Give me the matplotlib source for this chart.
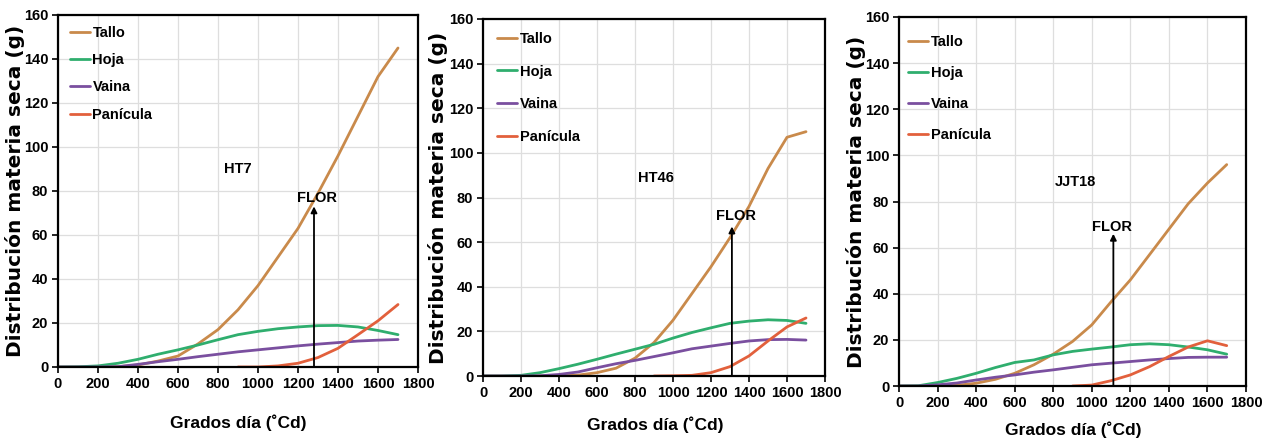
import matplotlib
matplotlib.use("Agg")
import matplotlib.pyplot as plt

W, H = 1266, 443
NARROW = ['Liberation Sans Narrow', 'Liberation Sans', 'DejaVu Sans']

series_names = ['Tallo', 'Hoja', 'Vaina', 'Panícula']
colors = {'Tallo': '#C98A4B', 'Hoja': '#2FAE6E', 'Vaina': '#7A4F9F', 'Panícula': '#E2603C'}

x_full = [0, 100, 200, 300, 400, 500, 600, 700, 800, 900, 1000, 1100, 1200, 1300, 1400, 1500, 1600, 1700]
x_pan = [900, 1000, 1100, 1200, 1300, 1400, 1500, 1600, 1700]

# HT7
ht7_tallo = [0, 0, 0, 0.15, 0.9, 2.7, 5.0, 10.5, 17, 26, 37, 50, 63, 79, 96, 114, 132, 145]
ht7_hoja = [0, 0.1, 0.5, 1.7, 3.5, 5.8, 7.8, 10.0, 12.4, 14.7, 16.2, 17.4, 18.2, 18.8, 18.9, 18.2, 16.6, 14.7]
ht7_vaina = [0, 0, 0, 0.15, 1.2, 2.4, 3.5, 4.7, 5.8, 6.9, 7.8, 8.7, 9.6, 10.4, 11.1, 11.8, 12.2, 12.5]
ht7_panicula = [0, 0, 0.5, 1.7, 4.3, 8.5, 14.7, 21, 28.4]

# HT46
ht46_tallo = [0, 0, 0, 0, 0, 0.4, 1.5, 3.5, 8.0, 15, 25, 37, 49, 62, 76, 93, 107, 109.5]
ht46_hoja = [0, 0, 0.3, 1.5, 3.3, 5.3, 7.5, 9.8, 12, 14.2, 17, 19.5, 21.6, 23.6, 24.6, 25.2, 24.9, 23.6]
ht46_vaina = [0, 0, 0, 0.1, 0.7, 1.8, 3.7, 5.5, 7.0, 8.7, 10.4, 12.2, 13.4, 14.6, 15.7, 16.3, 16.4, 16.1]
ht46_panicula = [0, 0.1, 0.3, 1.5, 4.2, 9.0, 15.7, 22, 26]

# JJT18
jjt18_tallo = [0, 0, 0, 0.3, 1.2, 2.9, 5.5, 9.2, 13.8, 19.3, 26.5, 36.5, 46, 57, 68, 79, 88, 96]
jjt18_hoja = [0, 0.1, 1.5, 3.3, 5.5, 8.0, 10.2, 11.3, 13.5, 15.0, 16.0, 16.9, 17.9, 18.3, 17.9, 16.9, 15.7, 13.8]
jjt18_vaina = [0, 0, 0.5, 1.3, 2.6, 3.8, 4.8, 6.0, 7.0, 8.1, 9.2, 9.9, 10.6, 11.3, 11.9, 12.4, 12.5, 12.5]
jjt18_panicula = [0, 0.4, 2.3, 4.8, 8.4, 12.8, 16.9, 19.6, 17.5]

panels = [
    dict(name='HT7', data=[ht7_tallo, ht7_hoja, ht7_vaina, ht7_panicula],
         box=(58, 15, 418, 367), name_xy=(900, 90), flor_xy=(1295, 77), arrow_x=1280, arrow_top=73,
         leg=(0.033, 0.969, 0.91), ylab_x=15, xlab=(238, 423)),
    dict(name='HT46', data=[ht46_tallo, ht46_hoja, ht46_vaina, ht46_panicula],
         box=(483, 19, 825, 376), name_xy=(910, 88.7), flor_xy=(1332, 71.7), arrow_x=1310, arrow_top=67,
         leg=(0.041, 0.964, 1.28), ylab_x=438, xlab=(655, 425)),
    dict(name='JJT18', data=[jjt18_tallo, jjt18_hoja, jjt18_vaina, jjt18_panicula],
         box=(899, 17, 1246, 386), name_xy=(913, 88.5), flor_xy=(1105, 69), arrow_x=1112, arrow_top=66,
         leg=(0.026, 0.951, 1.16), ylab_x=856, xlab=(1073, 430)),
]

fig = plt.figure(figsize=(W / 100, H / 100), dpi=100)
fig.patch.set_facecolor('white')

for p in panels:
    l, t, r, b = p['box']
    ax = fig.add_axes([l / W, 1 - b / H, (r - l) / W, (b - t) / H])
    for nm, ys in zip(series_names, p['data']):
        xs = x_pan if nm == 'Panícula' else x_full
        ax.plot(xs, ys, color=colors[nm], lw=2.0, label=nm, solid_capstyle='round',
                solid_joinstyle='round')
    ax.set_xlim(0, 1800)
    ax.set_ylim(0, 160)
    ax.set_xticks(range(0, 1801, 200))
    ax.set_yticks(range(0, 161, 20))
    ax.grid(True, color='#dedede', lw=0.9)
    ax.set_axisbelow(True)
    for s in ax.spines.values():
        s.set_linewidth(1.6)
        s.set_color('black')
    ax.tick_params(direction='out', length=4, width=1.2, pad=3)
    for lab in ax.get_xticklabels() + ax.get_yticklabels():
        lab.set_family(NARROW)
        lab.set_fontweight('bold')
        lab.set_fontsize(10.5)
    ax.text(p['name_xy'][0], p['name_xy'][1], p['name'], ha='center', va='center',
            family=NARROW, fontweight='bold', fontsize=10.5)
    ax.text(p['flor_xy'][0], p['flor_xy'][1], 'FLOR', ha='center', va='center',
            family=NARROW, fontweight='bold', fontsize=10.5)
    ax.annotate('', xy=(p['arrow_x'], p['arrow_top']), xytext=(p['arrow_x'], 0),
                arrowprops=dict(arrowstyle='-|>', color='black', lw=1.3, mutation_scale=9,
                                shrinkA=0, shrinkB=0))
    lx, ly, sp = p['leg']
    ax.legend(loc='upper left', bbox_to_anchor=(lx, ly), frameon=False,
              borderaxespad=0, borderpad=0, handlelength=1.4, handletextpad=0.15,
              labelspacing=sp, prop=dict(family=NARROW, weight='bold', size=10.5))
    fig.text(p['ylab_x'] / W, 1 - ((t + b) / 2) / H, 'Distribución materia seca (g)',
             rotation=90, ha='center', va='center', family='DejaVu Sans',
             fontweight='bold', fontsize=14.5)
    fig.text(p['xlab'][0] / W, 1 - p['xlab'][1] / H, 'Grados día (˚Cd)',
             ha='center', va='center', family=NARROW, fontweight='bold', fontsize=12.5)

fig.savefig('out.png', dpi=100, facecolor='white')
